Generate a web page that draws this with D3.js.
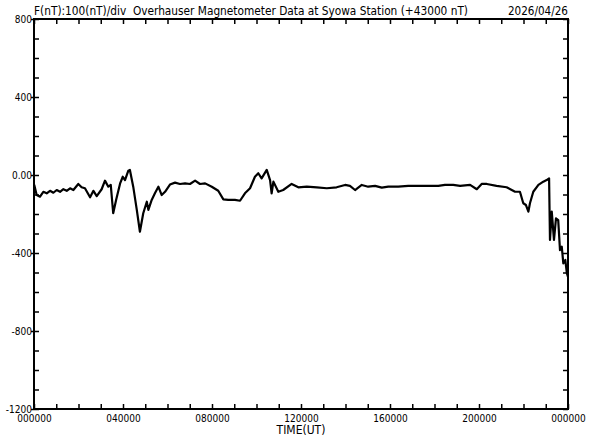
<!DOCTYPE html>
<html><head><meta charset="utf-8">
<script src="https://cdn.jsdelivr.net/npm/d3@7"></script>
<style>
html,body{margin:0;padding:0;background:#fff;}
svg{display:block;}
text{font-family:"DejaVu Sans Condensed","Liberation Sans Narrow","Liberation Sans",sans-serif;fill:#000;white-space:pre;}
</style></head>
<body>
<svg id="chart" width="592" height="440"></svg>
<script>
const titleText = "F(nT):100(nT)/div  Overhauser Magnetometer Data at Syowa Station (+43000 nT)";
const dateText = "2026/04/26";
const xAxisTitle = "TIME(UT)";
const xTickHours = [0, 4, 8, 12, 16, 20, 24];
const xTickLabels = ["000000", "040000", "080000", "120000", "160000", "200000", "000000"];
const yTickValues = [800, 400, 0, -400, -800, -1200];
const yTickLabels = ["800", "400", "0.00", "-400", "-800", "-1200"];

// time in hours UT, field in nT relative to 43000 nT
const hours = [0.01,0.12,0.27,0.42,0.57,0.72,0.87,1.02,1.17,1.32,1.47,1.62,1.77,1.99,2.14,2.29,2.52,2.67,2.82,3.04,
3.19,3.34,3.45,3.56,3.69,3.87,3.99,4.09,4.24,4.31,4.46,4.62,4.76,4.91,5.07,5.14,5.29,5.44,5.59,5.74,
5.89,6.11,6.34,6.56,6.79,7.01,7.24,7.46,7.69,7.99,8.28,8.51,8.73,9.03,9.26,9.48,9.71,9.93,10.08,10.23,
10.46,10.61,10.68,10.76,10.98,11.20,11.58,11.88,12.26,12.71,13.16,13.60,13.98,14.20,14.43,14.73,15.02,15.33,15.63,15.92,
16.37,16.82,17.27,17.72,18.17,18.47,18.84,19.15,19.60,19.90,20.12,20.35,20.79,21.24,21.62,21.84,21.99,22.11,22.22,22.29,
22.44,22.67,22.89,23.04,23.15,23.19,23.27,23.37,23.46,23.56,23.64,23.72,23.79,23.88,23.95,24.0];
const fieldNT = [-50,-103,-111,-86,-94,-81,-91,-77,-86,-73,-81,-68,-77,-46,-63,-68,-114,-81,-108,-73,
-29,-60,-51,-196,-128,-43,-9,-26,22,26,-60,-179,-291,-196,-137,-179,-128,-92,-60,-103,
-86,-49,-39,-46,-43,-46,-29,-46,-43,-60,-81,-125,-128,-128,-132,-94,-68,-9,9,-17,
26,-26,-94,-34,-86,-77,-46,-63,-60,-63,-68,-63,-51,-56,-77,-51,-60,-56,-65,-60,
-60,-56,-56,-56,-56,-51,-51,-56,-51,-73,-46,-46,-56,-63,-86,-86,-145,-154,-188,-145,
-86,-51,-34,-26,-17,-333,-188,-333,-222,-231,-385,-368,-453,-436,-504,-523];

const svg = d3.select("#chart");
const L = 34, R = 568, T = 19, B = 409;
const x = d3.scaleLinear().domain([0, 24]).range([L, R]);
const y = d3.scaleLinear().domain([-1200, 800]).range([B, T]);

// data line
const data = hours.map((h, i) => ({h, v: fieldNT[i]}));
svg.append("path").datum(data)
  .attr("fill", "none").attr("stroke", "#000").attr("stroke-width", 2.2)
  .attr("stroke-linejoin", "round")
  .attr("d", d3.line().x(d => x(d.h)).y(d => y(d.v)));

// axes (inward ticks)
const hourTicks = d3.range(0, 25, 1);
const yMinor = d3.range(-1200, 801, 100);

function styleAxis(g){
  g.select(".domain").remove();
  g.selectAll(".tick line").attr("stroke", "#000").attr("stroke-width", 1.5);
}

svg.append("g").attr("transform", `translate(0,${B})`)
  .call(d3.axisBottom(x).tickValues(hourTicks).tickSize(-5).tickPadding(6)
    .tickFormat(h => { const i = xTickHours.indexOf(h); return i >= 0 ? xTickLabels[i] : ""; }))
  .call(styleAxis)
  .selectAll("text").attr("font-size", 10).attr("y", 6).attr("dy", "0.71em");

svg.append("g").attr("transform", `translate(0,${T})`)
  .call(d3.axisTop(x).tickValues(hourTicks).tickSize(-5).tickFormat(""))
  .call(styleAxis);

svg.append("g").attr("transform", `translate(${L},0)`)
  .call(d3.axisLeft(y).tickValues(yMinor).tickSize(-5).tickFormat(""))
  .call(styleAxis);

svg.append("g").attr("transform", `translate(${L},0)`)
  .call(d3.axisLeft(y).tickValues(yTickValues).tickSize(3).tickPadding(-1)
    .tickFormat(v => yTickLabels[yTickValues.indexOf(v)]))
  .call(styleAxis)
  .selectAll("text").attr("font-size", 10);

svg.append("g").attr("transform", `translate(${R},0)`)
  .call(d3.axisRight(y).tickValues(yMinor).tickSize(-5).tickFormat(""))
  .call(styleAxis);

// frame
svg.append("rect").attr("x", L).attr("y", T).attr("width", R - L).attr("height", B - T)
  .attr("fill", "none").attr("stroke", "#000").attr("stroke-width", 2);

// texts
svg.append("text").attr("x", L).attr("y", 15).attr("font-size", 12).attr("xml:space", "preserve")
  .attr("textLength", 434).attr("lengthAdjust", "spacingAndGlyphs").text(titleText);
svg.append("text").attr("x", R).attr("y", 15).attr("font-size", 12).attr("text-anchor", "end")
  .attr("textLength", 60).attr("lengthAdjust", "spacingAndGlyphs").text(dateText);
svg.append("text").attr("x", x(12)).attr("y", 434).attr("font-size", 12).attr("text-anchor", "middle")
  .text(xAxisTitle);
</script>
</body></html>
